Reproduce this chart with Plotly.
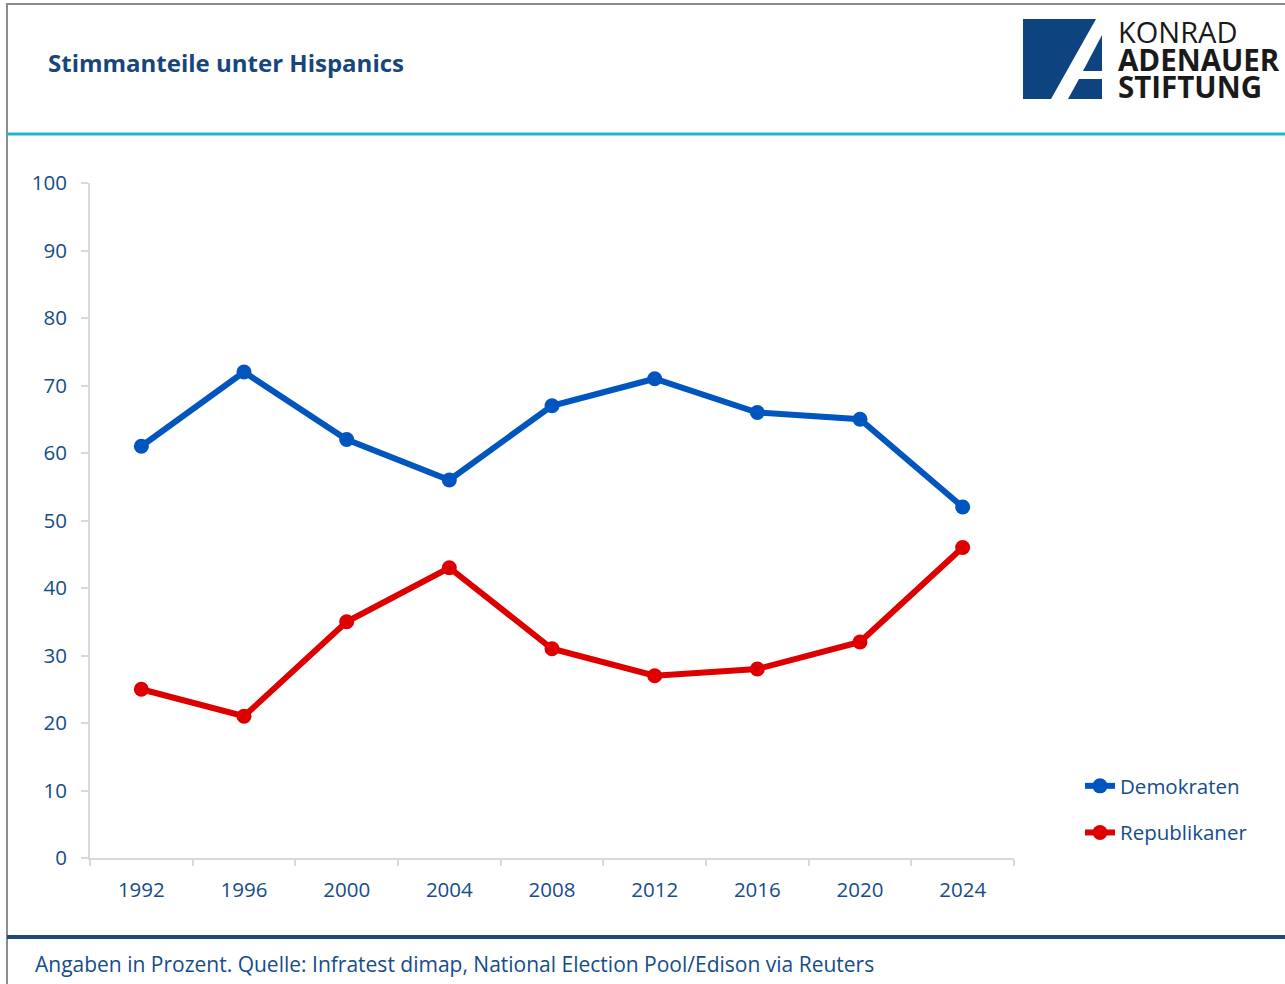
import plotly.graph_objects as go

years = ["1992", "1996", "2000", "2004", "2008", "2012", "2016", "2020", "2024"]
demokraten = [61, 72, 62, 56, 67, 71, 66, 65, 52]
republikaner = [25, 21, 35, 43, 31, 27, 28, 32, 46]
y_ticks = [0, 10, 20, 30, 40, 50, 60, 70, 80, 90, 100]

W, H = 1285, 984
ML, MR, MT, MB = 90, 271, 183, 126
PW, PH = W - ML - MR, H - MT - MB

def px(x):
    return (x - ML) / PW

def py(y):
    return 1 - (y - MT) / PH

FONT = "Open Sans"
TXT = "#154C8A"
BLUE = "#0055BF"
RED = "#DE0000"
AXIS = "#D9D9D9"

fig = go.Figure()
fig.add_trace(go.Scatter(
    x=years, y=demokraten, name="Demokraten", mode="lines+markers",
    line=dict(color=BLUE, width=6), marker=dict(size=15, color=BLUE),
    legendgroup="d"))
fig.add_trace(go.Scatter(
    x=years, y=republikaner, name="Republikaner", mode="lines+markers",
    line=dict(color=RED, width=6), marker=dict(size=15, color=RED),
    legendgroup="r"))

shapes = []
# outer frame lines
shapes.append(dict(type="line", xref="paper", yref="paper", x0=px(7), x1=px(1285), y0=py(4), y1=py(4),
                   line=dict(color="#8C8C8C", width=2), layer="above"))
shapes.append(dict(type="line", xref="paper", yref="paper", x0=px(7), x1=px(7), y0=py(3), y1=py(984),
                   line=dict(color="#8C8C8C", width=2), layer="above"))
shapes.append(dict(type="line", xref="paper", yref="paper", x0=px(7), x1=px(1285), y0=py(134), y1=py(134),
                   line=dict(color="#1CB9C1", width=3), layer="above"))
shapes.append(dict(type="line", xref="paper", yref="paper", x0=px(7), x1=px(1285), y0=py(937), y1=py(937),
                   line=dict(color="#1F4A7E", width=4), layer="above"))

# logo shapes
LOGO = "#0D4480"
def poly(pts):
    d = "M " + " L ".join(f"{px(a):.5f},{py(b):.5f}" for a, b in pts) + " Z"
    return dict(type="path", xref="paper", yref="paper", path=d, fillcolor=LOGO, line=dict(width=0), layer="above")

shapes.append(poly([(1023, 19), (1096, 19), (1051, 99), (1023, 99)]))
shapes.append(poly([(1102, 35), (1102, 71), (1083, 71)]))
shapes.append(poly([(1079, 79), (1102, 79), (1102, 99), (1068, 99)]))

annotations = [
    dict(text="<b>Stimmanteile unter Hispanics</b>", x=px(46), y=py(62), xref="paper", yref="paper",
         xanchor="left", yanchor="middle", showarrow=False, font=dict(family=FONT, size=24, color="#17457D")),
    dict(text="Angaben in Prozent. Quelle: Infratest dimap, National Election Pool/Edison via Reuters",
         x=px(33), y=py(964), xref="paper", yref="paper", xanchor="left", yanchor="middle", showarrow=False,
         font=dict(family=FONT, size=21, color=TXT)),
    dict(text="KONRAD", x=px(1116), y=py(31), xref="paper", yref="paper", xanchor="left", yanchor="middle",
         showarrow=False, font=dict(family=FONT, size=29, color="#1A1A1A")),
    dict(text="<b>ADENAUER</b>", x=px(1116), y=py(59), xref="paper", yref="paper", xanchor="left", yanchor="middle",
         showarrow=False, font=dict(family=FONT, size=29.5, color="#1A1A1A")),
    dict(text="<b>STIFTUNG</b>", x=px(1116), y=py(87), xref="paper", yref="paper", xanchor="left", yanchor="middle",
         showarrow=False, font=dict(family=FONT, size=29.5, color="#1A1A1A")),
]

fig.update_layout(
    width=W, height=H,
    margin=dict(l=ML, r=MR, t=MT, b=MB, autoexpand=False),
    paper_bgcolor="white", plot_bgcolor="white",
    font=dict(family=FONT, size=20.5, color=TXT),
    showlegend=True,
    legend=dict(x=px(1080), y=py(766), xanchor="left", yanchor="top", traceorder="grouped",
                tracegroupgap=17, font=dict(family=FONT, size=20.5, color=TXT), bgcolor="rgba(0,0,0,0)"),
    xaxis=dict(type="category", range=[-0.5, 8.5], tickson="boundaries", ticks="outside", ticklen=6,
               tickwidth=2, tickcolor=AXIS, showline=True, linecolor=AXIS, linewidth=2, showgrid=False,
               zeroline=False, tickfont=dict(family=FONT, size=20.5, color=TXT), ticklabelstandoff=12,
               fixedrange=True),
    yaxis=dict(range=[0, 100], tickvals=y_ticks, ticks="outside", ticklen=7, tickwidth=2, tickcolor=AXIS,
               showline=True, linecolor=AXIS, linewidth=2, showgrid=False, zeroline=False,
               tickfont=dict(family=FONT, size=20.5, color=TXT), ticklabelstandoff=10, fixedrange=True),
    shapes=shapes,
    annotations=annotations,
)

fig.write_html("out.html", config={"displayModeBar": False},
               post_script="document.body.style.margin='0';document.body.style.overflow='hidden';")
